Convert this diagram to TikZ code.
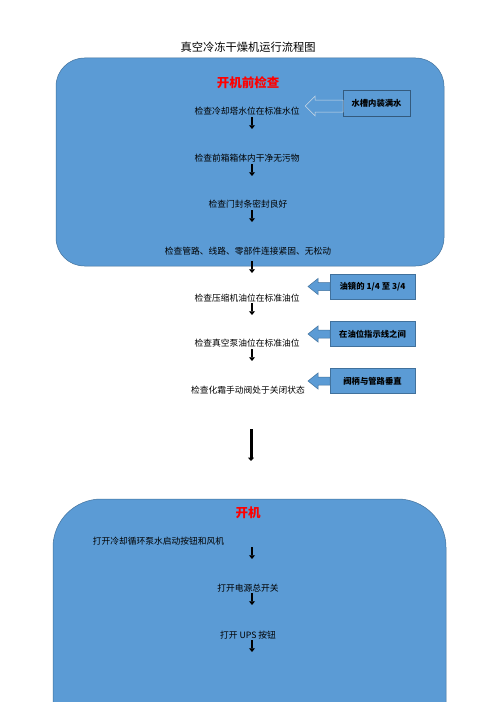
\documentclass[tikz,border=0pt]{standalone}
\usepackage{fontspec}
\setmainfont{Noto Sans CJK SC}
\usetikzlibrary{arrows.meta}
\definecolor{panelblue}{HTML}{5B9BD5}
\definecolor{paneledge}{HTML}{41719C}
\tikzset{
  >=Triangle[],
}

\begin{document}
\begin{tikzpicture}[x=1.2pt,y=-1.2pt,
      every node/.style={
        inner sep=1pt,
        outer sep=0pt,
        font=\fontsize{10.5pt}{12pt}\selectfont
      },
      panel/.style={fill=panelblue,draw=paneledge,semithick},
      heading/.style={text=red,font=\fontsize{15pt}{17pt}\selectfont\bfseries},
      note/.style={
        draw=paneledge,
        fill=panelblue,
        semithick,
        minimum width=102pt,
        minimum height=30pt,
        font=\fontsize{10pt}{12pt}\selectfont\bfseries
      },
      callarrow/.style={fill=panelblue,draw=paneledge,semithick,line join=miter},
      stub/.style={->,>={Triangle[width=7pt,length=4.5pt]},line width=2.6pt},
      bigarrow/.style={->,>={Triangle[width=7pt,length=4pt]},line width=3.6pt}
    ]
      \clip (0,0) rectangle (496,702);
      \fill [white] (0,0) rectangle (496,702);

      \node [font=\fontsize{13.5pt}{16pt}\selectfont] at (248,47) (title) {真空冷冻干燥机运行流程图};

      \draw [panel,rounded corners=34pt] (56,58) rectangle (444,266);
      \node [heading] at (248,83) (check) {开机前检查};
      \node at (247,111) (t1) {检查冷却塔水位在标准水位};
      \node at (247,158) (t2) {检查前箱箱体内干净无污物};
      \node at (248,204) (t3) {检查门封条密封良好};
      \node at (248,251) (t4) {检查管路、线路、零部件连接紧固、无松动};
      \node at (247,298) (t5) {检查压缩机油位在标准油位};
      \node at (247,343) (t6) {检查真空泵油位在标准油位};
      \node at (248,390) (t7) {检查化霜手动阀处于关闭状态};

      \draw [stub] (252,117) -- (252,129);
      \draw [stub] (252,164) -- (252,176);
      \draw [stub] (252,210) -- (252,222);
      \draw [stub] (252,261) -- (252,273);
      \draw [stub] (252,303) -- (252,315);
      \draw [stub] (252,349) -- (252,361);

      \node [note,minimum width=80pt,minimum height=31pt,draw=paneledge!80!black] at (376.5,103) (water) {水槽内装满水};
      \draw [callarrow,draw=white!75!paneledge] (water.west) ++(0,-3) -- ++(-28,0) -- ++(0,-4)
        -- ++(-10,10) -- ++(10,10) -- ++(0,-4) -- ++(28,0) -- cycle;

      \node [note] at (372.5,286.5) (mirror) {油镜的 1/4 至 3/4};
      \draw [callarrow] (mirror.west) ++(0,-4) -- ++(-12,0) -- ++(0,-4)
        -- ++(-10,8) -- ++(10,8) -- ++(0,-4) -- ++(12,0) -- cycle;

      \node [note] at (372.5,334) (mark) {在油位指示线之间};
      \draw [callarrow] (mark.west) ++(0,-4) -- ++(-12,0) -- ++(0,-4)
        -- ++(-10,8) -- ++(10,8) -- ++(0,-4) -- ++(12,0) -- cycle;

      \node [note] at (372.5,381) (handle) {阀柄与管路垂直};
      \draw [callarrow] (handle.west) ++(0,-4) -- ++(-12,0) -- ++(0,-4)
        -- ++(-10,8) -- ++(10,8) -- ++(0,-4) -- ++(12,0) -- cycle;

      \draw [bigarrow] (251,429) -- (251,461);

      \draw [panel,rounded corners=58pt] (53,499) rectangle (446,780);
      \node [heading] at (248,513) (start) {开机};
      \node [anchor=west] at (92,541) (b1) {打开冷却循环泵水启动按钮和风机};
      \node at (248,588) (b2) {打开电源总开关};
      \node at (248,635) (b3) {打开 UPS 按钮};

      \draw [stub] (252,547) -- (252,559);
      \draw [stub] (252,593) -- (252,605);
      \draw [stub] (252,640) -- (252,652);
    \end{tikzpicture}
\end{document}
